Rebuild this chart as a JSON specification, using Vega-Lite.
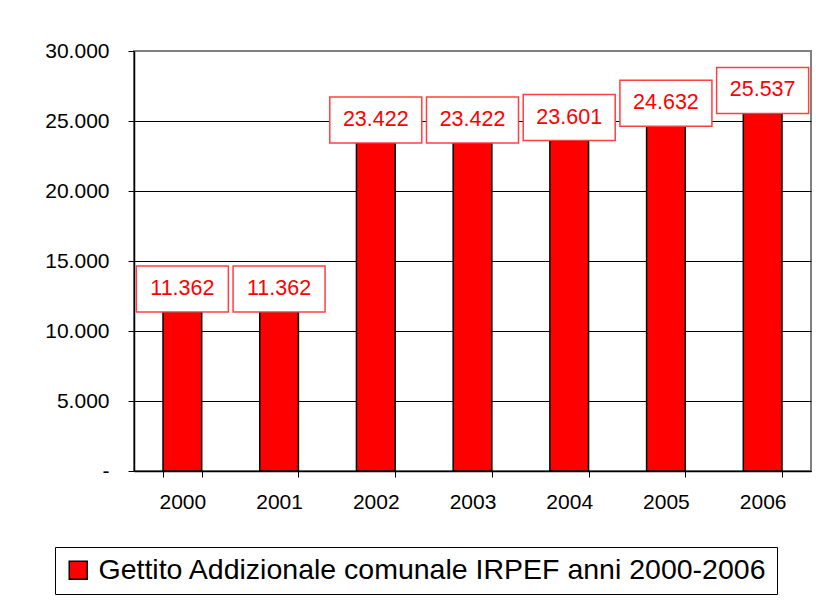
{
  "$schema": "https://vega.github.io/schema/vega-lite/v6.json",
  "autosize": {"type": "none"},
  "padding": {"left": 134, "top": 51, "right": 5, "bottom": 129},
  "width": 677,
  "height": 420,
  "background": "white",
  "config": {
    "font": "Liberation Sans",
    "view": {"stroke": "#808080", "strokeWidth": 2},
    "locale": {"number": {"decimal": ",", "thousands": ".", "grouping": [3], "currency": ["", " €"]}}
  },
  "data": {
    "values": [
      {"anno": "2000", "valore": 11362, "serie": "Gettito Addizionale comunale IRPEF anni 2000-2006"},
      {"anno": "2001", "valore": 11362, "serie": "Gettito Addizionale comunale IRPEF anni 2000-2006"},
      {"anno": "2002", "valore": 23422, "serie": "Gettito Addizionale comunale IRPEF anni 2000-2006"},
      {"anno": "2003", "valore": 23422, "serie": "Gettito Addizionale comunale IRPEF anni 2000-2006"},
      {"anno": "2004", "valore": 23601, "serie": "Gettito Addizionale comunale IRPEF anni 2000-2006"},
      {"anno": "2005", "valore": 24632, "serie": "Gettito Addizionale comunale IRPEF anni 2000-2006"},
      {"anno": "2006", "valore": 25537, "serie": "Gettito Addizionale comunale IRPEF anni 2000-2006"}
    ]
  },
  "encoding": {
    "x": {
      "field": "anno",
      "type": "ordinal",
      "scale": {"paddingInner": 0.6, "paddingOuter": 0.3},
      "axis": {
        "title": null,
        "labelAngle": 0,
        "labelFontSize": 21,
        "labelColor": "#000000",
        "labelPadding": 14,
        "tickBand": "extent",
        "tickSize": 6,
        "tickColor": "#000000",
        "domainColor": "#000000",
        "domainWidth": 1.5,
        "grid": false
      }
    },
    "y": {
      "field": "valore",
      "type": "quantitative",
      "scale": {"domain": [0, 30000], "nice": false},
      "axis": {
        "title": null,
        "values": [0, 5000, 10000, 15000, 20000, 25000, 30000],
        "labelExpr": "datum.value == 0 ? '-' : format(datum.value, ',')",
        "labelFontSize": 21,
        "labelColor": "#000000",
        "labelPadding": 19,
        "tickSize": 6,
        "tickColor": "#000000",
        "domainColor": "#000000",
        "domainWidth": 1.5,
        "grid": true,
        "gridColor": {"condition": {"test": "datum.value == 30000", "value": "#808080"}, "value": "#000000"},
        "gridWidth": 1
      }
    }
  },
  "layer": [
    {
      "mark": {"type": "bar", "stroke": "#000000", "strokeWidth": 1.5},
      "encoding": {
        "color": {
          "field": "serie",
          "type": "nominal",
          "scale": {"range": ["#FF0000"]},
          "legend": {
            "title": null,
            "orient": "none",
            "legendX": -79,
            "legendY": 496,
            "symbolType": "square",
            "symbolSize": 324,
            "symbolStrokeColor": "#000000",
            "symbolStrokeWidth": 1.5,
            "symbolFillColor": "#FF0000",
            "labelFontSize": 28.5,
            "labelColor": "#000000",
            "labelOffset": 6,
            "labelLimit": 0,
            "strokeColor": "#000000",
            "fillColor": "#FFFFFF",
            "padding": 9
          }
        }
      }
    },
    {
      "mark": {
        "type": "point",
        "shape": "M-1,-0.5H1V0.5H-1Z",
        "size": 8464,
        "filled": true,
        "fill": "#FFFFFF",
        "stroke": "#FF4040",
        "strokeWidth": 1.5,
        "opacity": 1,
        "yOffset": -23
      }
    },
    {
      "mark": {
        "type": "text",
        "color": "#FF0000",
        "fontSize": 21.5,
        "baseline": "middle",
        "align": "center",
        "yOffset": -23
      },
      "encoding": {
        "text": {"field": "valore", "type": "quantitative", "format": ",.0f"}
      }
    }
  ]
}
